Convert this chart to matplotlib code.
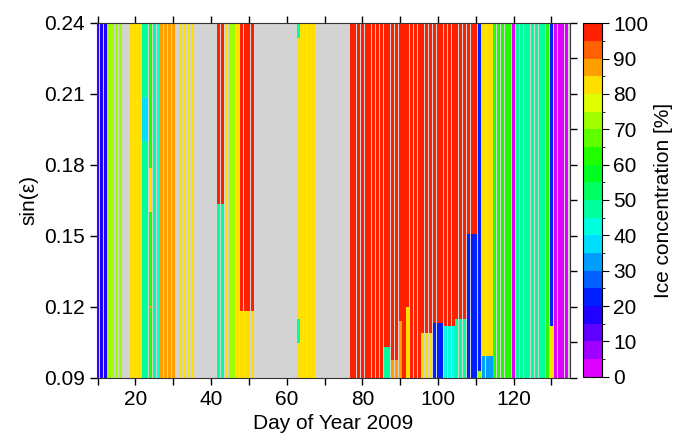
import numpy as np
import matplotlib
matplotlib.use('Agg')
import matplotlib.pyplot as plt
from matplotlib.colors import ListedColormap, BoundaryNorm, hsv_to_rgb
from matplotlib.cm import ScalarMappable
from matplotlib.ticker import MultipleLocator

plt.rcParams['font.family'] = ['Liberation Sans', 'DejaVu Sans']

nan = np.nan
# day of year and the ice concentration [%] that fills the whole column
day = np.arange(10, 135)
conc = [
    17, 17, 17, 72, 72, 72, 72, nan, nan, 82,        # 10-19
    82, 82, 47, 47, 62, 47, 42, 87, 87, 87,          # 20-29
    87, nan, 82, 82, 82, 82, nan, nan, nan, nan,     # 30-39
    nan, nan, 97, 97, 82, 72, 72, 82, 97, 97,        # 40-49
    97, 97, nan, nan, nan, nan, nan, nan, nan, nan,  # 50-59
    nan, nan, nan, 82, 82, 82, 82, 82, nan, nan,     # 60-69
    nan, nan, nan, nan, nan, nan, nan, 97, 97, 97,   # 70-79
    97, 97, 97, 97, 97, 97, 97, 97, 97, 97,          # 80-89
    97, 97, 97, 97, 97, 97, 97, 97, 97, 97,          # 90-99
    97, 97, 97, 97, 97, 97, 97, 97, 97, 97,          # 100-109
    97, 22, 82, 82, 82, 62, 62, 62, 62, 62,          # 110-119
    2, 47, 47, 47, 47, 47, 47, 47, 47, 62,           # 120-129
    22, 2, 2, 2, 2,                                  # 130-134
]

# parts of a column with a different concentration
seg_day = [22, 23, 24, 24, 42, 43, 48, 49, 50, 51, 63, 63,
           86, 87, 88, 89, 90, 92, 96, 97, 98, 99, 100, 101,
           102, 103, 104, 105, 106, 107, 108, 109, 110, 111,
           112, 113, 114, 130]
seg_lo = [0.190, 0.190, 0.160, 0.1195, 0.09, 0.09, 0.09, 0.09, 0.09, 0.09, 0.2334, 0.1048,
          0.09, 0.09, 0.09, 0.09, 0.09, 0.09, 0.09, 0.09, 0.09, 0.09, 0.09, 0.09,
          0.09, 0.09, 0.09, 0.09, 0.09, 0.09, 0.09, 0.09, 0.09, 0.09,
          0.09, 0.09, 0.09, 0.09]
seg_hi = [0.208, 0.208, 0.1787, 0.1205, 0.1635, 0.1635, 0.118, 0.118, 0.118, 0.118, 0.24, 0.1148,
          0.103, 0.103, 0.0975, 0.0975, 0.114, 0.120, 0.109, 0.109, 0.109, 0.113, 0.113, 0.113,
          0.112, 0.112, 0.112, 0.115, 0.115, 0.115, 0.1507, 0.1507, 0.1507, 0.0928,
          0.0992, 0.0992, 0.0992, 0.1118]
seg_conc = [37, 37, 82, 87, 47, 47, 82, 82, 82, 82, 47, 47,
            47, 47, 87, 87, 87, 82, 82, 82, 82, 22, 22, 22,
            42, 42, 42, 47, 47, 47, 22, 22, 22, 72,
            32, 32, 32, 82]

ylo, yhi = 0.09, 0.24

# 20 discrete levels, hue going from magenta (0 %) to red (100 %)
bounds = np.arange(0, 101, 5)
centers = (bounds[:-1] + bounds[1:]) / 2
hsv = np.column_stack([300 / 360 * (1 - centers / 100), np.ones(20), np.ones(20)])
cmap = ListedColormap(hsv_to_rgb(hsv))
norm = BoundaryNorm(bounds, cmap.N)

fig = plt.figure(figsize=(6.83, 4.37), dpi=100)
ax = fig.add_axes([0.1416, 0.1357, 0.693, 0.8123])
cax = fig.add_axes([0.853, 0.138, 0.0278, 0.8087])
ax.set_facecolor('#d3d3d3')

conc = np.array(conc, dtype=float)
ok = ~np.isnan(conc)
ax.bar(day[ok], yhi - ylo, bottom=ylo, width=0.8, color=cmap(norm(conc[ok])), linewidth=0)
ax.bar(seg_day, np.array(seg_hi) - np.array(seg_lo), bottom=seg_lo, width=0.8,
       color=cmap(norm(np.array(seg_conc))), linewidth=0)

ax.set_xlim(9.75, 134.9)
ax.set_ylim(ylo, yhi)
ax.xaxis.set_major_locator(MultipleLocator(20))
ax.xaxis.set_minor_locator(MultipleLocator(10))
ax.yaxis.set_major_locator(MultipleLocator(0.03))
ax.yaxis.set_minor_locator(MultipleLocator(0.015))
ax.yaxis.set_major_formatter(matplotlib.ticker.FormatStrFormatter('%.2f'))
ax.tick_params(which='both', direction='out', length=5, width=1, labelsize=15,
               top=True, right=True)
ax.tick_params(which='minor', axis='y', left=False, right=True)
ax.set_xlabel('Day of Year 2009', fontsize=15, labelpad=4)
ax.set_ylabel('sin(ε)', fontsize=15, labelpad=4)
for s in ax.spines.values():
    s.set_color('#333333')

cb = fig.colorbar(ScalarMappable(norm=norm, cmap=cmap), cax=cax, ticks=np.arange(0, 101, 10))
cb.outline.set_linewidth(0.8)
cax.tick_params(direction='out', length=5, labelsize=15)
cb.set_label('Ice concentration [%]', fontsize=15, labelpad=4)

fig.savefig('out.png', dpi=100)
